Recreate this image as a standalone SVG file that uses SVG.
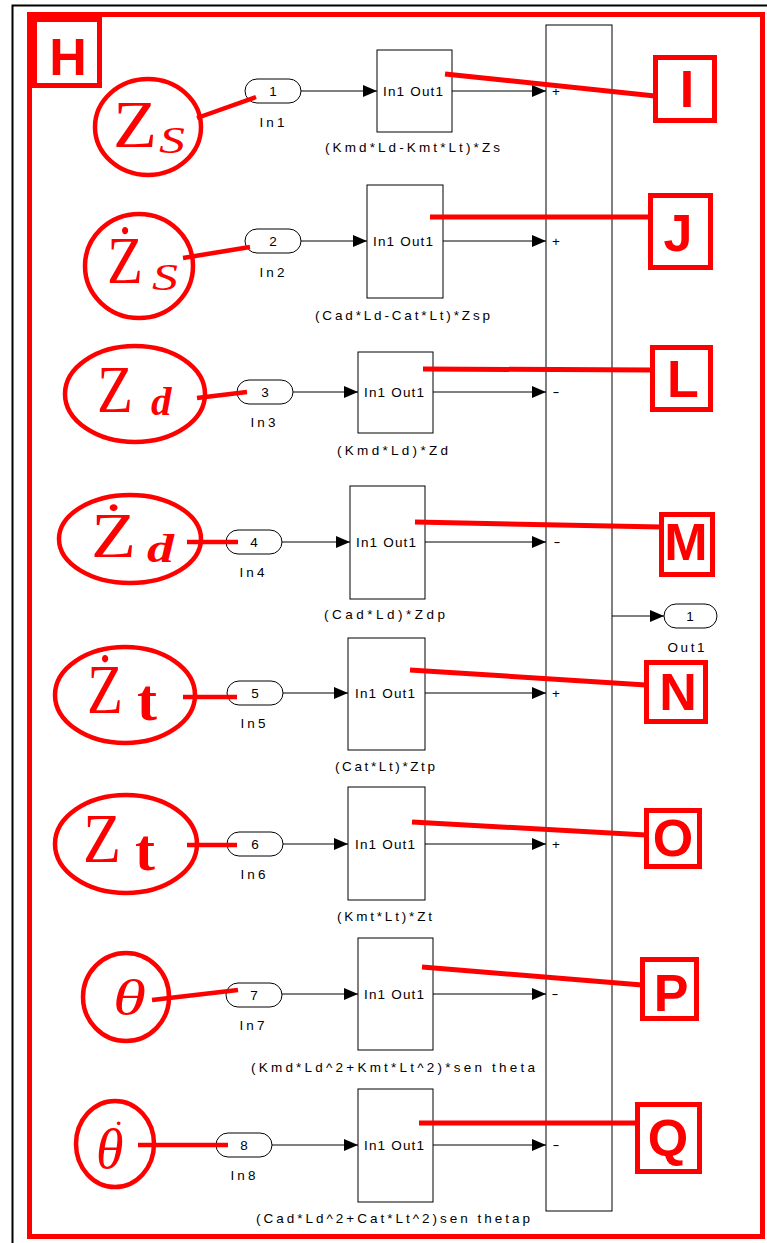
<svg xmlns="http://www.w3.org/2000/svg" width="767" height="1243" viewBox="0 0 767 1243">
<style>
.blk{fill:#fff;stroke:#000;stroke-width:1}
.ln{stroke:#000;stroke-width:1;fill:none}
.t{font-family:"Liberation Sans",Arial,sans-serif;font-size:13.5px;fill:#000}
.c{text-anchor:middle}
.rbox{fill:#fff;stroke:#f00;stroke-width:5}
.rl{stroke:#f00;stroke-width:5;fill:none}
.rc{stroke:#f00;stroke-width:4.5;fill:none}
.ell{fill:none;stroke:#f00;stroke-width:4.5}
.lt{font-family:"Liberation Sans",Arial,sans-serif;font-weight:bold;font-size:52px;fill:#f00;text-anchor:middle}
.m{font-family:"Liberation Serif","Times New Roman",serif;fill:#f00}
.i{font-style:italic}
.b{font-weight:bold}
</style>
<defs>
<marker id="ah" markerUnits="userSpaceOnUse" markerWidth="14" markerHeight="12" refX="14" refY="6" orient="auto"><path d="M0,0 L14,6 L0,12 z" fill="#000"/></marker>
</defs>
<rect x="0" y="0" width="767" height="1243" fill="#fff"/>
<rect x="12.5" y="5.5" width="760" height="1250" fill="none" stroke="#000" stroke-width="2"/>
<rect id="frame" x="29.5" y="14.5" width="733" height="1222" fill="none" stroke="#f00" stroke-width="5"/>

<g id="H"><rect class="rbox" x="34.5" y="19.5" width="65" height="66"/><text class="lt" x="68" y="75">H</text></g>

<!-- source ellipses -->
<g id="src1"><ellipse class="ell" cx="148" cy="127" rx="53" ry="48"/><text class="m" x="113" y="147" font-size="68" textLength="44" lengthAdjust="spacingAndGlyphs">Z</text><text class="m i" x="159" y="153" font-size="37" textLength="26" lengthAdjust="spacingAndGlyphs">S</text></g>
<g id="src2"><ellipse class="ell" cx="139" cy="266" rx="54" ry="52"/><text class="m" x="107" y="283" font-size="68" textLength="36" lengthAdjust="spacingAndGlyphs">Ż</text><text class="m i" x="152" y="290" font-size="37" textLength="26" lengthAdjust="spacingAndGlyphs">S</text></g>
<g id="src3"><ellipse class="ell" cx="135" cy="394" rx="70" ry="48"/><text class="m" x="97" y="412" font-size="68" textLength="36" lengthAdjust="spacingAndGlyphs">Z</text><text class="m i b" x="151" y="415" font-size="41">d</text></g>
<g id="src4"><ellipse class="ell" cx="130" cy="539" rx="71" ry="44"/><text class="m" x="91" y="557" font-size="64" textLength="45" lengthAdjust="spacingAndGlyphs">Ż</text><text class="m i b" x="147" y="562" font-size="41" textLength="27" lengthAdjust="spacingAndGlyphs">d</text></g>
<g id="src5"><ellipse class="ell" cx="125" cy="695" rx="70" ry="48"/><text class="m" x="87" y="713" font-size="70" textLength="36" lengthAdjust="spacingAndGlyphs">Ż</text><text class="m b" x="137" y="720" font-size="60">t</text></g>
<g id="src6"><ellipse class="ell" cx="126" cy="844" rx="71" ry="49"/><text class="m" x="83" y="862" font-size="70" textLength="38" lengthAdjust="spacingAndGlyphs">Z</text><text class="m b" x="135" y="870" font-size="60">t</text></g>
<g id="src7"><ellipse class="ell" cx="126" cy="997" rx="43" ry="44"/><text class="m i" x="113" y="1015" font-size="50" textLength="33" lengthAdjust="spacingAndGlyphs">θ</text></g>
<g id="src8"><ellipse class="ell" cx="115" cy="1144" rx="39" ry="43"/><text class="m i" x="96" y="1168" font-size="56">θ<tspan x="113" y="1144" font-size="34" font-style="normal">˙</tspan></text></g>

<!-- inports -->
<g id="in1"><rect class="blk" x="245" y="79" width="56" height="24" rx="12"/><text class="t c" x="273" y="96">1</text><text class="t c" x="272" y="127" textLength="25">In1</text></g>
<g id="in2"><rect class="blk" x="245" y="229" width="56" height="24" rx="12"/><text class="t c" x="273" y="246">2</text><text class="t c" x="272" y="277" textLength="25">In2</text></g>
<g id="in3"><rect class="blk" x="237" y="380" width="56" height="24" rx="12"/><text class="t c" x="265" y="397">3</text><text class="t c" x="263" y="427" textLength="25">In3</text></g>
<g id="in4"><rect class="blk" x="226" y="530" width="56" height="24" rx="12"/><text class="t c" x="254" y="547">4</text><text class="t c" x="252" y="577" textLength="25">In4</text></g>
<g id="in5"><rect class="blk" x="227" y="681" width="56" height="24" rx="12"/><text class="t c" x="255" y="698">5</text><text class="t c" x="253" y="728" textLength="25">In5</text></g>
<g id="in6"><rect class="blk" x="227" y="832" width="56" height="24" rx="12"/><text class="t c" x="255" y="849">6</text><text class="t c" x="253" y="879" textLength="25">In6</text></g>
<g id="in7"><rect class="blk" x="226" y="983" width="56" height="24" rx="12"/><text class="t c" x="254" y="1000">7</text><text class="t c" x="252" y="1030" textLength="25">In7</text></g>
<g id="in8"><rect class="blk" x="216" y="1133" width="56" height="24" rx="12"/><text class="t c" x="244" y="1150">8</text><text class="t c" x="243" y="1180" textLength="25">In8</text></g>

<!-- gain subsystems -->
<g id="g1"><rect class="blk" x="377" y="50" width="75" height="82"/><text class="t c" x="413" y="96" textLength="60">In1 Out1</text><text class="t" x="325" y="152" textLength="175">(Kmd*Ld-Kmt*Lt)*Zs</text></g>
<g id="g2"><rect class="blk" x="367" y="185" width="76" height="113"/><text class="t c" x="403" y="246" textLength="60">In1 Out1</text><text class="t" x="315" y="320" textLength="175">(Cad*Ld-Cat*Lt)*Zsp</text></g>
<g id="g3"><rect class="blk" x="358" y="352" width="75" height="81"/><text class="t c" x="394" y="397" textLength="60">In1 Out1</text><text class="t" x="337" y="455" textLength="111">(Kmd*Ld)*Zd</text></g>
<g id="g4"><rect class="blk" x="350" y="486" width="75" height="113"/><text class="t c" x="386" y="547" textLength="60">In1 Out1</text><text class="t" x="324" y="619" textLength="121">(Cad*Ld)*Zdp</text></g>
<g id="g5"><rect class="blk" x="348" y="638" width="77" height="112"/><text class="t c" x="385" y="698" textLength="60">In1 Out1</text><text class="t" x="335" y="771" textLength="100">(Cat*Lt)*Ztp</text></g>
<g id="g6"><rect class="blk" x="348" y="787" width="77" height="113"/><text class="t c" x="385" y="849" textLength="60">In1 Out1</text><text class="t" x="337" y="921" textLength="95">(Kmt*Lt)*Zt</text></g>
<g id="g7"><rect class="blk" x="358" y="938" width="75" height="112"/><text class="t c" x="394" y="999" textLength="60">In1 Out1</text><text class="t" x="251" y="1072" textLength="284">(Kmd*Ld^2+Kmt*Lt^2)*sen theta</text></g>
<g id="g8"><rect class="blk" x="358" y="1089" width="75" height="113"/><text class="t c" x="394" y="1150" textLength="60">In1 Out1</text><text class="t" x="256" y="1223" textLength="274">(Cad*Ld^2+Cat*Lt^2)sen thetap</text></g>

<!-- sum -->
<g id="sum"><rect class="blk" x="546" y="25" width="66" height="1186"/>
<text class="t c" x="556" y="96">+</text>
<text class="t c" x="556" y="246">+</text>
<text class="t c" x="556" y="396" textLength="7" lengthAdjust="spacingAndGlyphs">-</text>
<text class="t c" x="557" y="546" textLength="7" lengthAdjust="spacingAndGlyphs">-</text>
<text class="t c" x="556" y="698">+</text>
<text class="t c" x="556" y="849">+</text>
<text class="t c" x="555" y="998" textLength="7" lengthAdjust="spacingAndGlyphs">-</text>
<text class="t c" x="556" y="1149" textLength="7" lengthAdjust="spacingAndGlyphs">-</text>
</g>

<g id="out1"><rect class="blk" x="664" y="604" width="53" height="24" rx="12"/><text class="t c" x="690" y="621">1</text><text class="t c" x="686" y="652" textLength="37">Out1</text></g>

<!-- letter boxes -->
<g id="I"><rect class="rbox" x="655.5" y="57.5" width="59" height="63"/><text class="lt" x="687" y="107">I</text></g>
<g id="J"><rect class="rbox" x="650.5" y="195.5" width="60" height="72"/><text class="lt" x="678" y="251">J</text></g>
<g id="L"><rect class="rbox" x="652.5" y="347.5" width="58" height="62"/><text class="lt" x="683" y="397">L</text></g>
<g id="M"><rect class="rbox" x="661.5" y="514.5" width="51" height="60"/><text class="lt" x="686" y="560">M</text></g>
<g id="N"><rect class="rbox" x="646.5" y="662.5" width="59" height="59"/><text class="lt" x="678" y="710">N</text></g>
<g id="O"><rect class="rbox" x="646.5" y="810.5" width="53" height="56"/><text class="lt" x="673" y="856">O</text></g>
<g id="P"><rect class="rbox" x="642.5" y="959.5" width="54" height="59"/><text class="lt" x="671" y="1011">P</text></g>
<g id="Q"><rect class="rbox" x="637.5" y="1104.5" width="62" height="67"/><text class="lt" x="668" y="1156">Q</text></g>

<g id="connectors">
<line class="ln" x1="301" y1="91" x2="377" y2="91" marker-end="url(#ah)"/>
<line class="ln" x1="301" y1="241" x2="367" y2="241" marker-end="url(#ah)"/>
<line class="ln" x1="293" y1="392" x2="358" y2="392" marker-end="url(#ah)"/>
<line class="ln" x1="282" y1="542" x2="350" y2="542" marker-end="url(#ah)"/>
<line class="ln" x1="283" y1="693" x2="348" y2="693" marker-end="url(#ah)"/>
<line class="ln" x1="283" y1="844" x2="348" y2="844" marker-end="url(#ah)"/>
<line class="ln" x1="282" y1="994" x2="358" y2="994" marker-end="url(#ah)"/>
<line class="ln" x1="272" y1="1145" x2="358" y2="1145" marker-end="url(#ah)"/>
<line class="ln" x1="452" y1="91" x2="546" y2="91" marker-end="url(#ah)"/>
<line class="ln" x1="443" y1="241" x2="546" y2="241" marker-end="url(#ah)"/>
<line class="ln" x1="433" y1="392" x2="546" y2="392" marker-end="url(#ah)"/>
<line class="ln" x1="425" y1="542" x2="546" y2="542" marker-end="url(#ah)"/>
<line class="ln" x1="425" y1="693" x2="546" y2="693" marker-end="url(#ah)"/>
<line class="ln" x1="425" y1="844" x2="546" y2="844" marker-end="url(#ah)"/>
<line class="ln" x1="433" y1="994" x2="546" y2="994" marker-end="url(#ah)"/>
<line class="ln" x1="433" y1="1145" x2="546" y2="1145" marker-end="url(#ah)"/>
<line class="ln" x1="612" y1="616" x2="664" y2="616" marker-end="url(#ah)"/>
<!-- red annotation links -->
<line class="rc" x1="197" y1="118" x2="256" y2="97"/>
<line class="rc" x1="183" y1="258" x2="250" y2="247"/>
<line class="rc" x1="197" y1="398" x2="247" y2="392"/>
<line class="rc" x1="187" y1="542" x2="238" y2="542"/>
<line class="rc" x1="183" y1="697" x2="237" y2="697"/>
<line class="rc" x1="187" y1="845" x2="237" y2="845"/>
<line class="rc" x1="152" y1="1000" x2="238" y2="990"/>
<line class="rc" x1="138" y1="1145" x2="228" y2="1145"/>
<line class="rl" x1="445" y1="74" x2="655" y2="96"/>
<line class="rl" x1="430" y1="217" x2="650" y2="217"/>
<line class="rl" x1="423" y1="369" x2="652" y2="370"/>
<line class="rl" x1="415" y1="522" x2="661" y2="527"/>
<line class="rl" x1="410" y1="670" x2="646" y2="685"/>
<line class="rl" x1="412" y1="822" x2="646" y2="835"/>
<line class="rl" x1="422" y1="967" x2="642" y2="985"/>
<line class="rl" x1="419" y1="1123" x2="637" y2="1123"/>
</g>
</svg>
